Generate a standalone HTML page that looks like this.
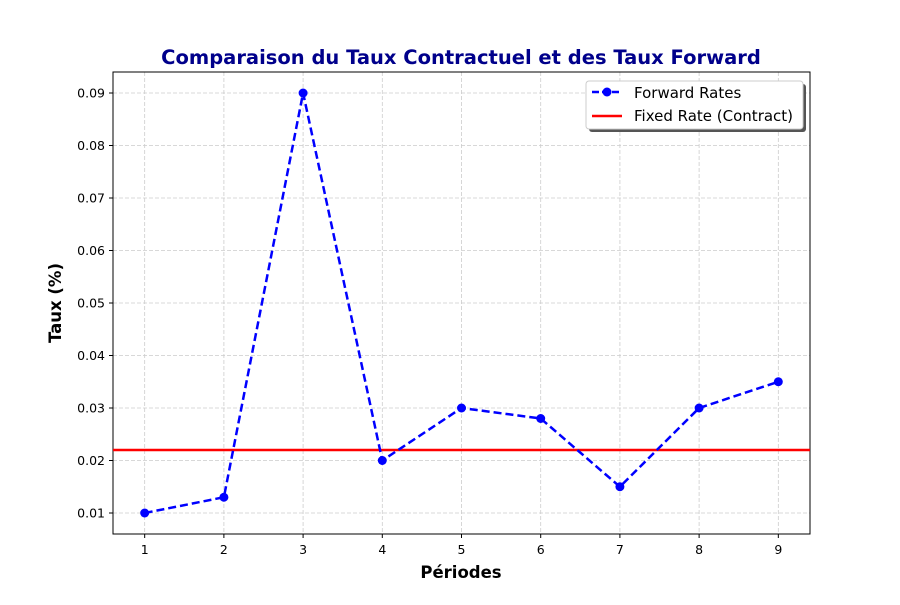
<!DOCTYPE html>
<html><head><meta charset="utf-8"><style>
body{margin:0;background:#fff;}
svg{font-family:"DejaVu Sans","Liberation Sans",sans-serif;}
</style></head><body>
<svg id="chart" width="900" height="600" xmlns="http://www.w3.org/2000/svg">
<rect width="900" height="600" fill="#fff"/>
<text x="461" y="64" text-anchor="middle" font-size="19.5" font-weight="bold" fill="#00008b">Comparaison du Taux Contractuel et des Taux Forward</text>
<g id="grid"></g>
<g id="axes"></g>
<g id="series"></g>
<text x="461" y="578" text-anchor="middle" font-size="16.5" font-weight="bold">Périodes</text>
<text transform="translate(61,303) rotate(-90)" text-anchor="middle" font-size="16.5" font-weight="bold">Taux (%)</text>
<g>
<rect x="589" y="84" width="217" height="48" rx="3" fill="#555"/>
<rect x="586" y="81" width="217" height="48" rx="3" fill="#fff" stroke="#ccc"/>
<g>
<line x1="592" y1="92" x2="622" y2="92" stroke="#0000ff" stroke-width="2.5" stroke-dasharray="7,3"/>
<circle cx="607" cy="92" r="4.5" fill="#0000ff"/>
<text x="634" y="98" font-size="15">Forward Rates</text></g>
<g>
<line x1="592" y1="116" x2="622" y2="116" stroke="#ff0000" stroke-width="2.5"/>
<text x="634" y="121" font-size="15">Fixed Rate (Contract)</text></g>
</g>
</svg>
<script>
const periods=[1,2,3,4,5,6,7,8,9];
const forwardRates=[0.01,0.013,0.09,0.02,0.03,0.028,0.015,0.03,0.035];
const fixedRate=[0.022];
const xTicks=[1,2,3,4,5,6,7,8,9];
const yTicks=[0.01,0.02,0.03,0.04,0.05,0.06,0.07,0.08,0.09];
const L=113,R=810,T=72,B=534;
const xMin=0.6,xMax=9.4,yMin=0.006,yMax=0.094;
const sx=v=>L+(v-xMin)/(xMax-xMin)*(R-L);
const sy=v=>B-(v-yMin)/(yMax-yMin)*(B-T);
const NS="http://www.w3.org/2000/svg";
function mk(tag,attrs,parent){const e=document.createElementNS(NS,tag);for(const k in attrs)e.setAttribute(k,attrs[k]);parent.appendChild(e);return e;}
const grid=document.getElementById('grid'),axes=document.getElementById('axes'),series=document.getElementById('series');
xTicks.forEach(t=>{const x=sx(t);
 const g=mk('line',{x1:x,x2:x,y1:T,y2:B,stroke:'#ccc','stroke-width':0.8,'stroke-dasharray':'4,2'},grid);
 
 
 mk('line',{x1:x,x2:x,y1:B,y2:B+4,stroke:'#000'},axes);
 const tx=mk('text',{x:x,y:B+20,'text-anchor':'middle','font-size':12.5},axes);tx.textContent=t;
 
 });
yTicks.forEach(t=>{const y=sy(t);
 const g=mk('line',{x1:L,x2:R,y1:y,y2:y,stroke:'#ccc','stroke-width':0.8,'stroke-dasharray':'4,2'},grid);
 
 
 mk('line',{x1:L-4,x2:L,y1:y,y2:y,stroke:'#000'},axes);
 const tx=mk('text',{x:L-8,y:y+4.5,'text-anchor':'end','font-size':12.5},axes);tx.textContent=t.toFixed(2);
 
 });
const frame=mk('rect',{x:L,y:T,width:R-L,height:B-T,fill:'none',stroke:'#000','stroke-width':1},axes);


const fl=mk('line',{x1:L,x2:R,y1:sy(fixedRate[0]),y2:sy(fixedRate[0]),stroke:'#ff0000','stroke-width':2.5},series);


const pts=periods.map((p,i)=>sx(p)+','+sy(forwardRates[i])).join(' ');
const pl=mk('polyline',{points:pts,fill:'none',stroke:'#0000ff','stroke-width':2.5,'stroke-dasharray':'8,4'},series);


periods.forEach((p,i)=>{const c=mk('circle',{cx:sx(p),cy:sy(forwardRates[i]),r:4.5,fill:'#0000ff'},series);
 
 });
</script>
</body></html>
